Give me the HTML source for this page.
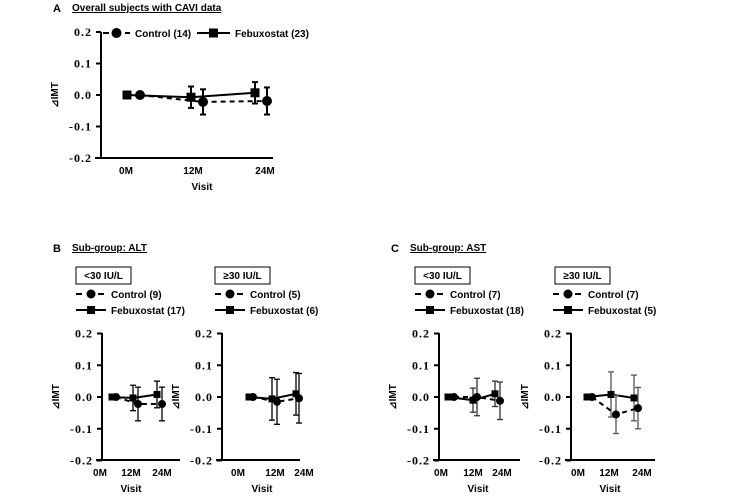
<!DOCTYPE html>
<html><head><meta charset="utf-8"><style>
body{margin:0;background:#fff;width:750px;height:497px;overflow:hidden}
svg{display:block}
.tk{font-family:"Liberation Serif",serif;font-weight:bold;font-size:12px;letter-spacing:1px}
.sf{font-family:"Liberation Sans",sans-serif;font-weight:bold;font-size:10px}
</style></head><body>
<svg id="c" width="750" height="497" xmlns="http://www.w3.org/2000/svg">
<g class="sf">
<text x="53" y="12" font-size="11">A</text>
<text x="72" y="11" text-decoration="underline">Overall subjects with CAVI data</text>
<text x="53" y="252" font-size="11">B</text>
<text x="72" y="251" text-decoration="underline">Sub-group: ALT</text>
<text x="391" y="252" font-size="11">C</text>
<text x="410" y="251" text-decoration="underline">Sub-group: AST</text>
</g>
</svg>
<script>
// data arrays
const visits = ["0M","12M","24M"];
const yTicks = [0.2,0.1,0.0,-0.1,-0.2];
const ctrlA = [0,-0.022,-0.019], ctrlAErr = [0,0.040,0.043];
const febA = [0,-0.007,0.007], febAErr = [0,0.034,0.034];
const ctrlBL = [0,-0.022,-0.022], ctrlBLErr = [0,0.053,0.053];
const febBL = [0,-0.003,0.008], febBLErr = [0,0.040,0.042];
const ctrlBR = [0,-0.015,-0.004], ctrlBRErr = [0,0.071,0.078];
const febBR = [0,-0.006,0.010], febBRErr = [0,0.067,0.067];
const ctrlCL = [0,0.0,-0.012], ctrlCLErr = [0,0.059,0.059];
const febCL = [0,-0.010,0.010], febCLErr = [0,0.038,0.040];
const ctrlCR = [0,-0.055,-0.035], ctrlCRErr = [0,0.060,0.065];
const febCR = [0,0.008,-0.003], febCRErr = [0,0.071,0.072];
const legendNames = ["Control","Febuxostat"];
const nA = [14,23], nBL=[9,17], nBR=[5,6], nCL=[7,18], nCR=[7,5];

const NS="http://www.w3.org/2000/svg";
const svg=document.getElementById('c');
function mk(tag,attrs,parent){const e=document.createElementNS(NS,tag);for(const k in attrs)e.setAttribute(k,attrs[k]);(parent||svg).appendChild(e);return e;}

function panel(id,cfg,ctrl,ctrlE,feb,febE){
  const g=mk('g',{});
  
  
  const y=v=>cfg.y0+(v-0)*(cfg.yBot-cfg.yTop)/-0.4;
  const ya=mk('line',{x1:cfg.ax,y1:cfg.yTop,x2:cfg.ax,y2:cfg.yBot,stroke:'#000','stroke-width':2},g);
  
  
  const xa=mk('line',{x1:cfg.ax-6,y1:cfg.yBot,x2:cfg.xEnd,y2:cfg.yBot,stroke:'#000','stroke-width':2},g);
  
  
  yTicks.forEach(t=>{
    const yy=y(t);
    mk('line',{x1:cfg.ax-5,y1:yy,x2:cfg.ax,y2:yy,stroke:'#000','stroke-width':2},g);
    const tx=mk('text',{x:cfg.ax-9,y:yy+4,'text-anchor':'end',class:'tk'},g);
    tx.textContent=t.toFixed(1);
    
    
  });
  visits.forEach((v,i)=>{
    const tx=mk('text',{x:cfg.lblX[i],y:cfg.yBot+16,'text-anchor':'middle',class:'sf','font-size':11},g);
    tx.textContent=v;
    
    
  });
  const xt=mk('text',{x:cfg.visitX,y:cfg.yBot+32,'text-anchor':'middle',class:'sf','font-size':12},g);
  xt.textContent='Visit';
  
  
  const yt=mk('text',{x:0,y:0,'text-anchor':'middle',class:'sf','font-size':11,transform:`translate(${cfg.ax-43},${y(0)}) rotate(-90)`},g);
  yt.textContent='⊿IMT';
  
  
  const ms=cfg.ms;
  function series(vals,errs,xs,dashed,sq,name){
    const sg=mk('g',{},g);
    
    
    const ebc=cfg.ebColor||'#000';
    vals.forEach((v,i)=>{ if(errs[i]>0){
      const x=xs[i];
      mk('line',{x1:x,y1:y(v+errs[i]),x2:x,y2:y(v-errs[i]),stroke:ebc,'stroke-width':cfg.ebw},sg);
      mk('line',{x1:x-3,y1:y(v+errs[i]),x2:x+3,y2:y(v+errs[i]),stroke:ebc,'stroke-width':cfg.ebw},sg);
      mk('line',{x1:x-3,y1:y(v-errs[i]),x2:x+3,y2:y(v-errs[i]),stroke:ebc,'stroke-width':cfg.ebw},sg);
    }});
    const pl=mk('polyline',{points:vals.map((v,i)=>xs[i]+','+y(v)).join(' '),fill:'none',stroke:'#000','stroke-width':2,'stroke-dasharray':dashed?'5,4':'none'},sg);
    
    
    vals.forEach((v,i)=>{
      const m= sq? mk('rect',{x:xs[i]-ms/2,y:y(v)-ms/2,width:ms,height:ms,fill:'#000'},sg)
                 : mk('circle',{cx:xs[i],cy:y(v),r:ms/2+0.5,fill:'#000'},sg);
      
      
    });
  }
  series(feb,febE,cfg.febX,false,true,'febuxostat-series');
  series(ctrl,ctrlE,cfg.ctrlX,true,false,'control-series');
}

function legendItem(x,y,w,label,dashed,sq,ms,fs){
  const g=mk('g',{});
  
  
  mk('line',{x1:x,y1:y,x2:x+w,y2:y,stroke:'#000','stroke-width':2,'stroke-dasharray':dashed?'6,5':'none'},g);
  const cx=x+w/2;
  if(sq) mk('rect',{x:cx-ms/2,y:y-ms/2,width:ms,height:ms,fill:'#000'},g);
  else mk('circle',{cx:cx,cy:y,r:ms/2+0.5,fill:'#000'},g);
  const t=mk('text',{x:x+w+5,y:y+4,class:'sf','font-size':fs},g);
  t.textContent=label;
}
function box(x,y,label){
  const g=mk('g',{});
  
  
  mk('rect',{x:x,y:y,width:55,height:17,fill:'#fff',stroke:'#000','stroke-width':1},g);
  const t=mk('text',{x:x+27.5,y:y+12,'text-anchor':'middle',class:'sf','font-size':9.5},g);
  t.textContent=label;
}

panel('panel-a-chart',{ax:101,yTop:32,yBot:158,y0:95,xEnd:273,lblX:[126,193,265],visitX:202,ms:9,ebw:2,
  febX:[127,191,255],ctrlX:[140,203,267]},ctrlA,ctrlAErr,febA,febAErr);
legendItem(103,33,27,`${legendNames[0]} (${nA[0]})`,true,false,9,10);
legendItem(197,33,33,`${legendNames[1]} (${nA[1]})`,false,true,9,10);

const bBase={yTop:333,yBot:460,y0:397,ms:7,ebw:1.3};
panel('panel-b-low-chart',Object.assign({},bBase,{ax:102,xEnd:180,lblX:[100,131,162],visitX:131,
  febX:[112,133,157],ctrlX:[116,138,162]}),ctrlBL,ctrlBLErr,febBL,febBLErr);
panel('panel-b-high-chart',Object.assign({},bBase,{ax:222,xEnd:300,lblX:[238,275,304],visitX:262,
  febX:[249,272,296],ctrlX:[253,277,299]}),ctrlBR,ctrlBRErr,febBR,febBRErr);
panel('panel-c-low-chart',Object.assign({},bBase,{ax:439,xEnd:520,lblX:[441,473,502],visitX:478,
  febX:[448,473,495],ctrlX:[454,477,500],ebColor:'#333'}),ctrlCL,ctrlCLErr,febCL,febCLErr);
panel('panel-c-high-chart',Object.assign({},bBase,{ax:571,xEnd:655,lblX:[578,609,642],visitX:610,
  febX:[587,611,634],ctrlX:[592,616,638],ebColor:'#555'}),ctrlCR,ctrlCRErr,febCR,febCRErr);

box(76,267,'<30 IU/L'); box(215,267,'≥30 IU/L'); box(415,267,'<30 IU/L'); box(555,267,'≥30 IU/L');
[[76,nBL],[215,nBR],[415,nCL],[553,nCR]].forEach(([x,n])=>{
  legendItem(x,294,30,`${legendNames[0]} (${n[0]})`,true,false,8,10);
  legendItem(x,310,30,`${legendNames[1]} (${n[1]})`,false,true,8,10);
});
</script>
</body></html>
